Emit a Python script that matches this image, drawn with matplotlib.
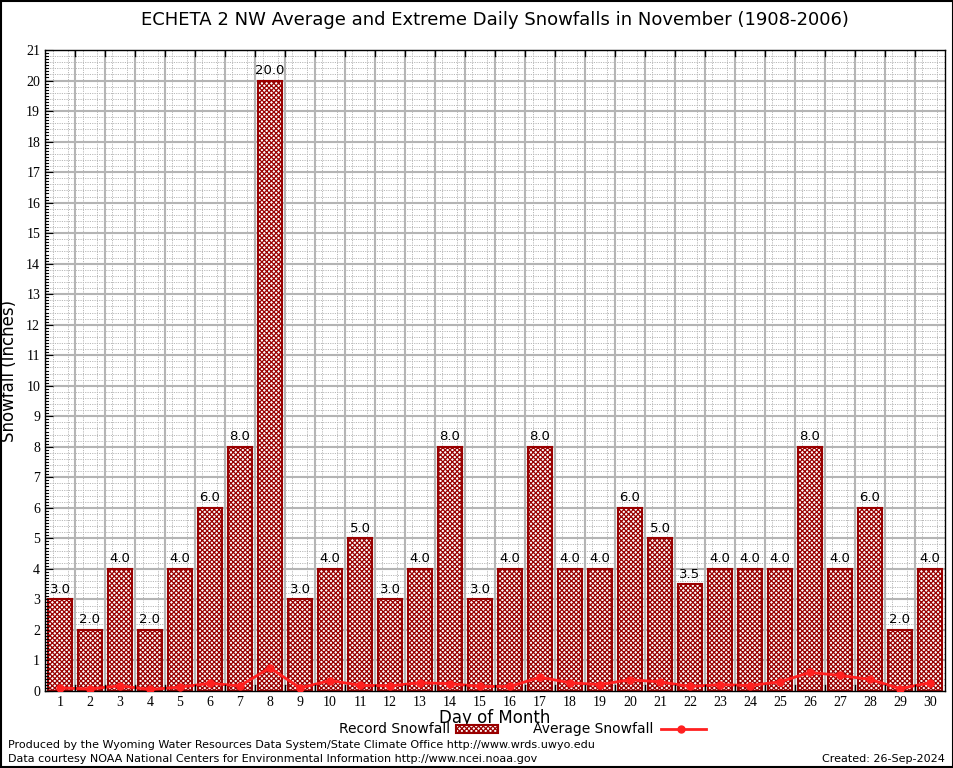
import numpy as np
import matplotlib
matplotlib.use("Agg")
import matplotlib.pyplot as plt
from matplotlib.ticker import MultipleLocator
from matplotlib.patches import Rectangle
from matplotlib.lines import Line2D

days = list(range(1, 31))
record = [3.0, 2.0, 4.0, 2.0, 4.0, 6.0, 8.0, 20.0, 3.0, 4.0, 5.0, 3.0, 4.0, 8.0, 3.0,
          4.0, 8.0, 4.0, 4.0, 6.0, 5.0, 3.5, 4.0, 4.0, 4.0, 8.0, 4.0, 6.0, 2.0, 4.0]
average = [0.10, 0.07, 0.17, 0.05, 0.13, 0.25, 0.17, 0.76, 0.10, 0.34, 0.19, 0.17, 0.27, 0.24, 0.15,
           0.15, 0.45, 0.27, 0.21, 0.37, 0.30, 0.15, 0.21, 0.18, 0.30, 0.61, 0.51, 0.38, 0.08, 0.27]

plt.rcParams['hatch.color'] = '#a00000'
plt.rcParams['hatch.linewidth'] = 0.9

fig = plt.figure(figsize=(9.54, 7.68), dpi=100)
ax = fig.add_axes([45 / 954, 77 / 768, 900 / 954, 641 / 768])

# grid
ax.set_xlim(0.5, 30.5)
ax.set_ylim(0, 21)
ax.xaxis.set_minor_locator(MultipleLocator(0.25))
ax.yaxis.set_minor_locator(MultipleLocator(0.2))
ax.grid(which='minor', color='#b8b8b8', linestyle=(0, (1.2, 1.2)), linewidth=0.7)
ax.set_axisbelow(True)
for y in range(1, 21):
    ax.axhline(y, color='#b4b4b4', linewidth=1.5, zorder=0.5)
for x in np.arange(1.5, 30.5, 1.0):
    ax.axvline(x, color='#b4b4b4', linewidth=1.5, zorder=0.5)

ax.bar(days, record, width=0.79, facecolor='white', edgecolor='#990000',
       hatch='xxxxxxx', linewidth=1.5, zorder=2)
for d, r in zip(days, record):
    ax.text(d, r + 0.12, f"{r:.1f}", ha='center', va='bottom', fontsize=9.5, zorder=4)

ax.plot(days, average, color='#ff2020', linewidth=2, marker='o', markersize=5, zorder=3)

ax.set_xticks(days)
ax.set_xticklabels([str(d) for d in days], family='Liberation Serif', fontsize=10)
ax.set_yticks(range(0, 22))
ax.set_yticklabels([str(y) for y in range(0, 22)], family='Liberation Serif', fontsize=10)
ax.tick_params(axis='both', which='minor', length=0)
ax.tick_params(axis='x', which='major', length=4, direction='in')
ax.tick_params(axis='y', which='major', length=6, direction='in')
# small inner y ticks
for y in np.arange(0, 21, 0.1):
    ax.plot([0.5, 0.6], [y, y], color='black', linewidth=0.8, zorder=5, clip_on=False)
for x in np.arange(1.5, 30.5, 1.0):
    ax.plot([x, x], [21, 20.8], color='black', linewidth=1, zorder=5)
    ax.plot([x, x], [0, 0.2], color='black', linewidth=1, zorder=5)
for s in ax.spines.values():
    s.set_linewidth(1)

ax.set_xlabel("Day of Month", fontsize=12, labelpad=0)
ax.set_ylabel("Snowfall (Inches)", fontsize=12, labelpad=6)

fig.text(495 / 954, 1 - 20 / 768, "ECHETA 2 NW Average and Extreme Daily Snowfalls in November (1908-2006)",
         ha='center', va='center', fontsize=13)

# legend
fig.text(450 / 954, 1 - 729 / 768, "Record Snowfall", ha='right', va='center', fontsize=10)
fig.patches.append(Rectangle((456 / 954, 1 - 733 / 768), 42 / 954, 8 / 768, transform=fig.transFigure,
                             facecolor='white', edgecolor='#990000', hatch='xxxxxxx', linewidth=1.5))
fig.text(653 / 954, 1 - 729 / 768, "Average Snowfall", ha='right', va='center', fontsize=10)
fig.lines.append(Line2D([661 / 954, 681 / 954, 706 / 954], [1 - 729 / 768] * 3, transform=fig.transFigure,
                        color='#ff2020', linewidth=2, marker='o', markersize=5, markevery=[1]))

fig.text(8 / 954, 1 - 745 / 768, "Produced by the Wyoming Water Resources Data System/State Climate Office http://www.wrds.uwyo.edu",
         ha='left', va='center', fontsize=8)
fig.text(8 / 954, 1 - 759 / 768, "Data courtesy NOAA National Centers for Environmental Information http://www.ncei.noaa.gov",
         ha='left', va='center', fontsize=8)
fig.text(945 / 954, 1 - 759 / 768, "Created: 26-Sep-2024", ha='right', va='center', fontsize=8)

fig.patches.append(Rectangle((0.001, 0.001), 0.998, 0.998, transform=fig.transFigure,
                             facecolor='none', edgecolor='black', linewidth=1.5))

fig.savefig("out.png", dpi=100)
